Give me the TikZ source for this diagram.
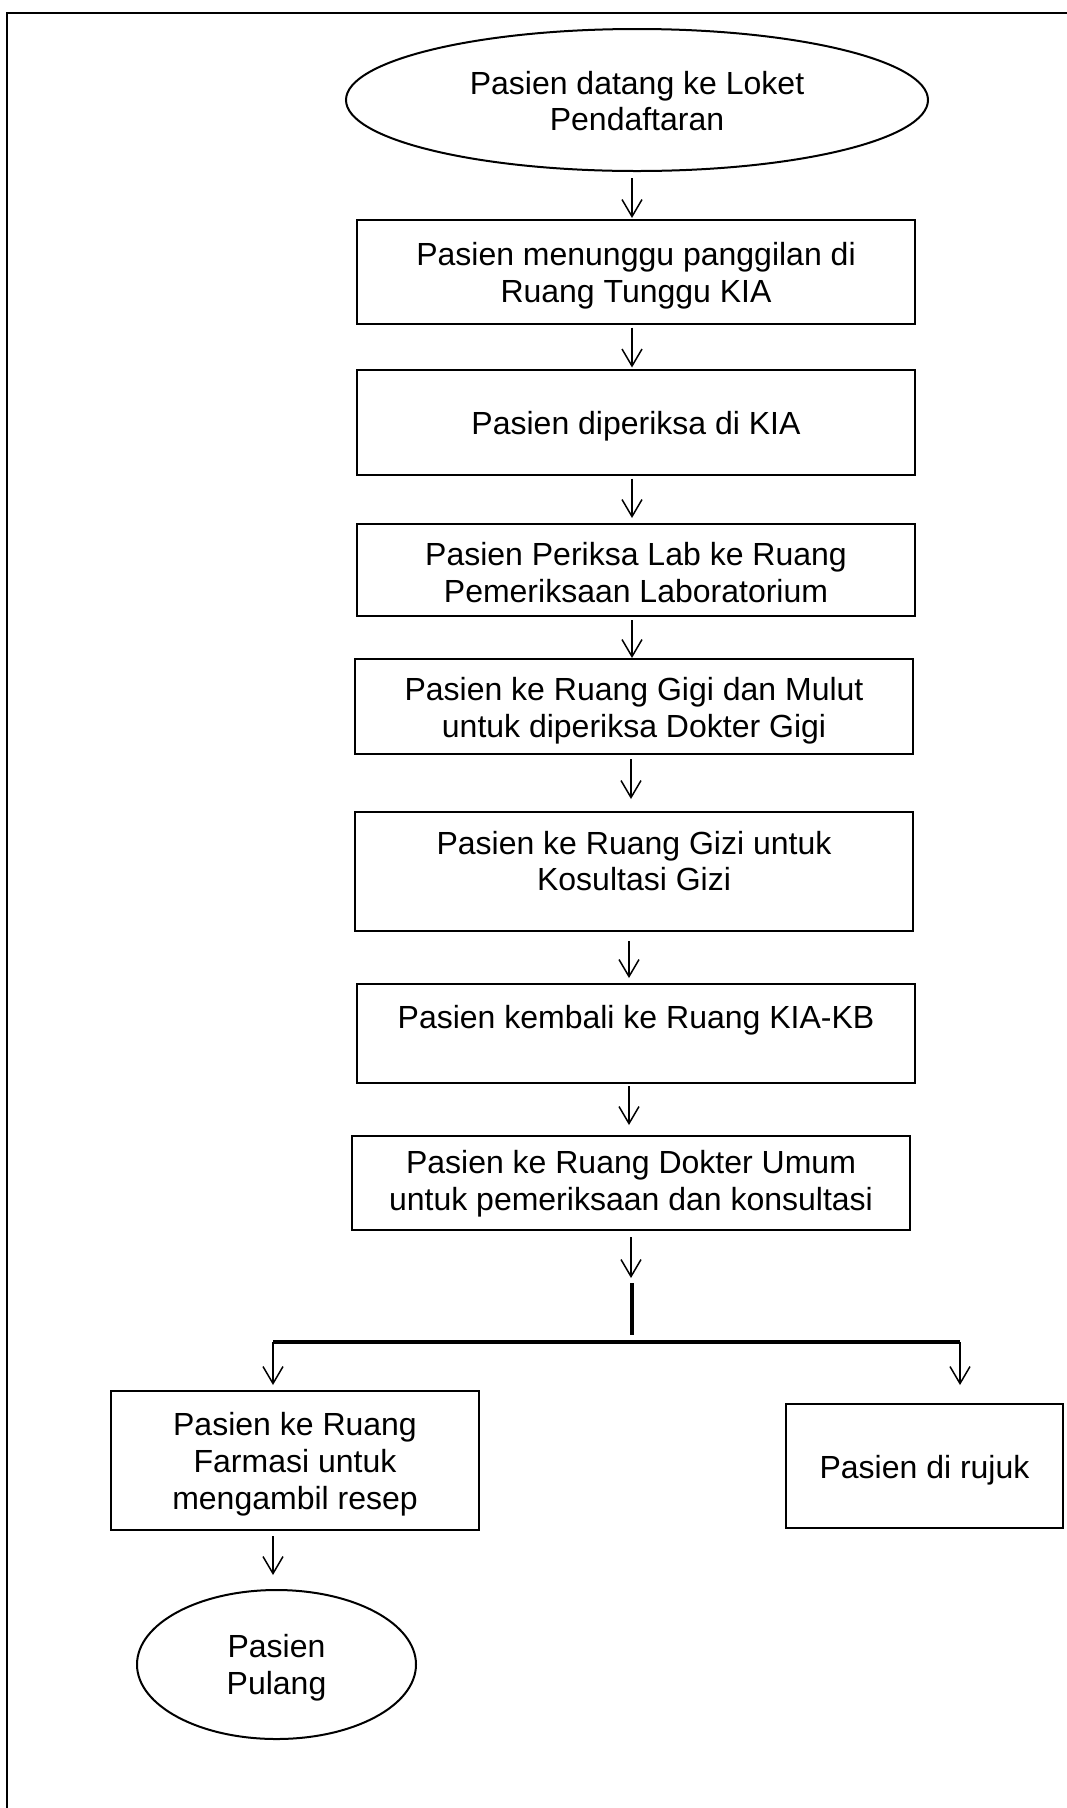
\documentclass[tikz,border=0pt]{standalone}
\usepackage{fontspec}
\setmainfont{Liberation Sans}
\usetikzlibrary{shapes.geometric, arrows.meta, calc}
\begin{document}
\begin{tikzpicture}[x=1pt, y=-1pt,
  every node/.style={font=\fontsize{32}{36.8}\selectfont, align=center},
  box/.style={draw, line width=2pt, inner sep=0pt},
  oval/.style={draw, ellipse, line width=2pt, inner sep=0pt},
  txt/.style={inner sep=0pt},
  arr/.style={line width=1.5pt, -{Straight Barb[length=17pt, width=20pt, line width=1.5pt]}},
  bar/.style={line width=4pt},
  frame/.style={line width=2.3pt}]

\useasboundingbox (0,0) rectangle (1067,1808);

% page frame (top and left edges)
\draw[frame] (7,1808) -- (7,13) -- (1067,13);

% main column: shapes
\node[oval, minimum width=582pt, minimum height=142pt] (e) at (637,100) {};
\node[box, minimum width=558pt, minimum height=104pt] (b1) at (636,272) {};
\node[box, minimum width=558pt, minimum height=105pt] (b2) at (636,422) {};
\node[box, minimum width=558pt, minimum height=92pt]  (b3) at (636,570) {};
\node[box, minimum width=558pt, minimum height=95pt]  (b4) at (634,706.5) {};
\node[box, minimum width=558pt, minimum height=119pt] (b5) at (634,871.5) {};
\node[box, minimum width=558pt, minimum height=99pt]  (b6) at (636,1033.5) {};
\node[box, minimum width=558pt, minimum height=94pt]  (b7) at (631,1183) {};

% branches: shapes
\node[box, minimum width=368pt, minimum height=139pt] (fa) at (295,1460.5) {};
\node[box, minimum width=277pt, minimum height=124pt] (rj) at (924.5,1466) {};
\node[oval, minimum width=279pt, minimum height=149pt] (pu) at (276.5,1664.5) {};

% texts
\node[txt] (te) at (637,101) {Pasien datang ke Loket\\Pendaftaran};
\node[txt] (t1) at (636,276) {Pasien menunggu panggilan di\\Ruang Tunggu KIA};
\node[txt] (t2) at (636,426) {Pasien diperiksa di KIA};
\node[txt] (t3) at (636,572.5) {Pasien Periksa Lab ke Ruang\\Pemeriksaan Laboratorium};
\node[txt] (t4) at (634,710.5) {Pasien ke Ruang Gigi dan Mulut\\untuk diperiksa Dokter Gigi};
\node[txt] (t5) at (634,861) {Pasien ke Ruang Gizi untuk\\Kosultasi Gizi};
\node[txt] (t6) at (636,1020.5) {Pasien kembali ke Ruang KIA-KB};
\node[txt] (t7) at (631,1184) {Pasien ke Ruang Dokter Umum\\untuk pemeriksaan dan konsultasi};
\node[txt] (tf) at (295,1464.5) {Pasien ke Ruang\\Farmasi untuk\\mengambil resep};
\node[txt] (tr) at (924.5,1470) {Pasien di rujuk};
\node[txt] (tp) at (276.5,1668) {Pasien\\Pulang};

% junction points
\coordinate (jt) at (632,1278);
\coordinate (j1) at (632,1283);
\coordinate (j2) at (632,1335);
\coordinate (hl) at (273,1342);
\coordinate (hr) at (960,1342);

% connectors
\draw[arr, shorten <=6pt, shorten >=1pt] (e.south -| jt) -- (b1.north -| jt);
\draw[arr, shorten <=2.5pt, shorten >=1pt] (b1.south -| jt) -- (b2.north -| jt);
\draw[arr, shorten <=3pt, shorten >=5pt] (b2.south -| jt) -- (b3.north -| jt);
\draw[arr, shorten <=3pt] (b3.south -| jt) -- (b4.north -| jt);
\draw[arr, shorten <=4pt, shorten >=12pt] ([xshift=-1pt]b4.south -| jt) -- ([xshift=-1pt]b5.north -| jt);
\draw[arr, shorten <=9pt, shorten >=5pt] ([xshift=-3pt]b5.south -| jt) -- ([xshift=-3pt]b6.north -| jt);
\draw[arr, shorten <=2pt, shorten >=10pt] ([xshift=-3pt]b6.south -| jt) -- ([xshift=-3pt]b7.north -| jt);
\draw[arr, shorten <=6pt] ([xshift=-1pt]b7.south -| jt) -- ([xshift=-1pt]jt);

\draw[bar] (j1) -- (j2);
\draw[bar] (hl) -- (hr);

\draw[arr] (hl) -- ([yshift=5pt]hl |- fa.north);
\draw[arr] (hr) -- ([yshift=18pt]hr |- rj.north);
\draw[arr, shorten <=5pt, shorten >=14pt] (fa.south -| hl) -- (pu.north -| hl);

\end{tikzpicture}
\end{document}
